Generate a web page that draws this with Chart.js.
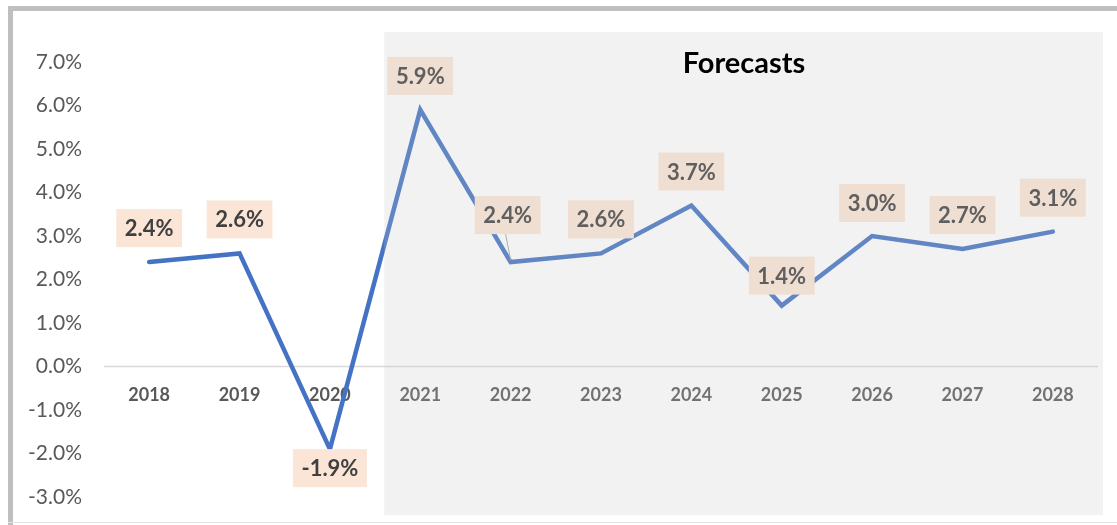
<!DOCTYPE html>
<html>
<head>
<meta charset="utf-8">
<script src="https://cdn.jsdelivr.net/npm/chart.js@4.4.1/dist/chart.umd.min.js"></script>
<style>
  html, body { margin: 0; padding: 0; background: #fff; }
  #wrap { position: relative; width: 1117px; height: 525px; }
</style>
</head>
<body>
<div id="wrap"><canvas id="growth"></canvas></div>
<script>
// GDP growth, actuals 2018-2020, forecasts 2021-2028
var years = ['2018', '2019', '2020', '2021', '2022', '2023', '2024', '2025', '2026', '2027', '2028'];
var growth = [2.4, 2.6, -1.9, 5.9, 2.4, 2.6, 3.7, 1.4, 3.0, 2.7, 3.1];
var firstForecast = '2021';
var yTicks = { min: -3, max: 7, step: 1 };

// label placement (style only): offset of the label box centre from the point
var labelShift = [
  { dx: 0, dy: -34 }, { dx: 0, dy: -34 }, { dx: 0, dy: 19 }, { dx: 0, dy: -34 },
  { dx: -3, dy: -47, leader: true }, { dx: 0, dy: -34 }, { dx: 0, dy: -34 },
  { dx: 0, dy: -30 }, { dx: 0, dy: -33 }, { dx: 0, dy: -34 }, { dx: 0, dy: -34 }
];

var FONT = 'Lato, "Open Sans", sans-serif';

var framePlugin = {
  id: 'frame',
  beforeDraw: function (chart) {
    var ctx = chart.ctx;
    ctx.save();
    ctx.fillStyle = '#fff';
    ctx.fillRect(0, 0, chart.width, chart.height);
    ctx.fillStyle = '#bfbfbf';
    ctx.fillRect(8, 6, chart.width - 8, 5);
    ctx.fillRect(8, 6, 5, chart.height - 6);
    ctx.fillStyle = '#e3e3e3';
    ctx.fillRect(8, chart.height - 3, chart.width - 8, 1);
    ctx.restore();
  },
  // category axis sits on the zero line, labels just under it
  beforeDatasetsDraw: function (chart) {
    var ctx = chart.ctx, area = chart.chartArea;
    var xs = chart.scales.x, ys = chart.scales.y;
    var y0 = ys.getPixelForValue(0);
    ctx.save();
    ctx.strokeStyle = '#d9d9d9';
    ctx.lineWidth = 1.5;
    ctx.beginPath();
    ctx.moveTo(area.left, y0);
    ctx.lineTo(area.right, y0);
    ctx.stroke();
    ctx.fillStyle = '#595959';
    ctx.font = 'bold 18px ' + FONT;
    ctx.textAlign = 'center';
    ctx.textBaseline = 'middle';
    years.forEach(function (yr, i) {
      ctx.fillText(yr, xs.getPixelForValue(i), y0 + 29);
    });
    ctx.restore();
  }
};

var labelPlugin = {
  id: 'valueLabels',
  afterDatasetsDraw: function (chart) {
    var ctx = chart.ctx;
    var meta = chart.getDatasetMeta(0);
    ctx.save();
    ctx.font = 'bold 22px ' + FONT;
    ctx.textAlign = 'center';
    ctx.textBaseline = 'middle';
    meta.data.forEach(function (pt, i) {
      var s = labelShift[i];
      var txt = growth[i].toFixed(1) + '%';
      var w = ctx.measureText(txt).width + 17;
      var h = 38;
      var cx = pt.x + s.dx, cy = pt.y + s.dy;
      if (s.leader) {
        ctx.strokeStyle = '#a6a6a6';
        ctx.lineWidth = 1;
        ctx.beginPath();
        ctx.moveTo(cx - 2, cy + h / 2);
        ctx.lineTo(pt.x, pt.y - 2);
        ctx.stroke();
      }
      ctx.fillStyle = '#fbe5d6';
      ctx.fillRect(cx - w / 2, cy - h / 2, w, h);
      ctx.fillStyle = '#404040';
      ctx.fillText(txt, cx, cy + 1);
    });
    ctx.restore();
  },
  afterDraw: function (chart) {
    var ctx = chart.ctx;
    var x = chart.scales.x;
    var left = x.getPixelForValue(years.indexOf(firstForecast)) - 36;
    var right = chart.chartArea.right + 5;
    ctx.save();
    // translucent forecast panel over the chart
    ctx.fillStyle = 'rgba(200,200,200,0.23)';
    ctx.fillRect(left, 32, right - left, 515 - 32);
    ctx.fillStyle = '#000';
    ctx.font = 'bold 29px ' + FONT;
    ctx.textAlign = 'center';
    ctx.textBaseline = 'middle';
    ctx.fillText('Forecasts', 744, 64);
    ctx.restore();
  }
};

new Chart(document.getElementById('growth').getContext('2d'), {
  type: 'line',
  data: {
    labels: years,
    datasets: [{
      data: growth,
      borderColor: '#4472c4',
      borderWidth: 4.5,
      borderCapStyle: 'round',
      borderJoinStyle: 'miter',
      pointRadius: 0,
      tension: 0,
      fill: false
    }]
  },
  options: {
    responsive: true, maintainAspectRatio: false, animation: false,
    layout: { padding: { top: 62, bottom: 28, left: 0, right: 19 } },
    plugins: { legend: { display: false }, tooltip: { enabled: false } },
    scales: {
      x: { type: 'category', offset: true, display: false },
      y: {
        min: yTicks.min, max: yTicks.max,
        afterFit: function (scale) {
          scale.width = 104;
          scale.paddingTop = 12;
          scale.paddingBottom = 12;
        },
        grid: { display: false, drawTicks: false },
        border: { display: false },
        ticks: {
          stepSize: yTicks.step, color: '#595959', padding: 22,
          font: { family: FONT, size: 21 },
          callback: function (v) { return v.toFixed(1) + '%'; }
        }
      }
    }
  },
  plugins: [framePlugin, labelPlugin]
});
</script>
</body>
</html>
